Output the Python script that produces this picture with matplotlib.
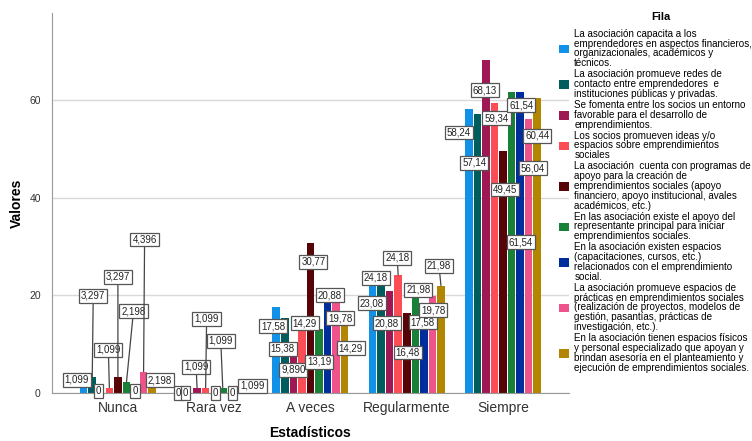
import numpy as np
import matplotlib.pyplot as plt

plt.rcParams['font.family'] = ['Liberation Sans', 'DejaVu Sans']

# datos (porcentajes por fila)
categorias = ['Nunca', 'Rara vez', 'A veces', 'Regularmente', 'Siempre']
capacita  = [1.099, 0, 17.58, 23.08, 58.24]
redes     = [3.297, 0, 15.38, 24.18, 57.14]
entorno   = [0, 1.099, 9.890, 20.88, 68.13]
ideas     = [1.099, 1.099, 14.29, 24.18, 59.34]
programas = [3.297, 0, 30.77, 16.48, 49.45]
apoyo     = [2.198, 1.099, 13.19, 21.98, 61.54]
espacios  = [0, 0, 20.88, 17.58, 61.54]
practicas = [4.396, 0, 19.78, 19.78, 56.04]
fisicos   = [2.198, 1.099, 14.29, 21.98, 60.44]

series = [capacita, redes, entorno, ideas, programas, apoyo, espacios, practicas, fisicos]

nombres = [
    'La asociación capacita a los\nemprendedores en aspectos financieros,\norganizacionales, académicos y\ntécnicos.',
    'La asociación promueve redes de\ncontacto entre emprendedores  e\ninstituciones públicas y privadas.',
    'Se fomenta entre los socios un entorno\nfavorable para el desarrollo de\nemprendimientos.',
    'Los socios promueven ideas y/o\nespacios sobre emprendimientos\nsociales',
    'La asociación  cuenta con programas de\napoyo para la creación de\nemprendimientos sociales (apoyo\nfinanciero, apoyo institucional, avales\nacadémicos, etc.)',
    'En las asociación existe el apoyo del\nrepresentante principal para iniciar\nemprendimientos sociales.',
    'En la asociación existen espacios\n(capacitaciones, cursos, etc.)\nrelacionados con el emprendimiento\nsocial.',
    'La asociación promueve espacios de\nprácticas en emprendimientos sociales\n(realización de proyectos, modelos de\ngestión, pasantías, prácticas de\ninvestigación, etc.).',
    'En la asociación tienen espacios físicos\ny personal especializado que apoyan y\nbrindan asesoría en el planteamiento y\nejecución de emprendimientos sociales.',
]

colores = ['#1192e8', '#005d5d', '#9f1853', '#fa4d56', '#570408',
           '#198038', '#002d9c', '#ee538b', '#b28600']

# desplazamiento de cada etiqueta respecto a la cima de su barra (pixeles)
etiq_pos = [
    [(-7, 8), (-1.5, 0), (-3, -19), (-1, -23), (-10, -24)],
    [(1, 81), (-3, 0), (-2, -31), (-5, -3), (-3, -49)],
    [(-2, 2), (-1, 21), (0, -25), (-3, -32), (-1, -30)],
    [(-1, 38), (1, 69), (3, 0), (-1, 17), (2, -15)],
    [(0, 100), (1, 0), (3, -19), (1, -40), (2, -38)],
    [(7, 71), (-2, 47), (0, -33), (3, -4), (9, -150)],
    [(0, 2), (1, 0), (2, -4), (-1, -15), (1, -13)],
    [(1, 132), None, (4, -22), (1, -14), (4, -49)],
    [(8, 2), (4, 2), (6, -25), (-2, 20), (0, -38)],
]


def fmt(v):
    if v == 0:
        return '0'
    dec = 3 - int(np.floor(np.log10(v)))
    return '{:.{}f}'.format(v, dec).replace('.', ',')


fig = plt.figure(figsize=(7.52, 4.41), dpi=100)
ax = fig.add_axes([0.0691, 0.1088, 0.6875, 0.8617])

x = np.arange(len(categorias))
n = len(series)
slot = 0.8 / n
for i, (vals, col) in enumerate(zip(series, colores)):
    xs = x + (i - (n - 1) / 2) * slot
    ax.bar(xs, vals, width=slot * 0.88, color=col, label=nombres[i], zorder=2)

for i, vals in enumerate(series):
    xs = x + (i - (n - 1) / 2) * slot
    for j, v in enumerate(vals):
        pos = etiq_pos[i][j]
        if pos is None:
            continue
        dx, dy = pos
        kw = {}
        if dy > 10:
            kw['arrowprops'] = dict(arrowstyle='-', color='#444444', lw=0.9,
                                    shrinkA=0, shrinkB=0)
        ax.annotate(fmt(v), xy=(xs[j], v), xytext=(dx, dy),
                    textcoords='offset pixels', ha='center', va='center',
                    fontsize=7, color='#222222', zorder=5,
                    annotation_clip=False,
                    bbox=dict(boxstyle='square,pad=0.2', fc='white',
                              ec='#555555', lw=0.9), **kw)

ax.set_xlim(-0.685, 4.685)
ax.set_ylim(0, 77.8)
ax.set_yticks([0, 20, 40, 60])
ax.set_xticks(x)
ax.set_xticklabels(categorias, fontsize=10, color='#333333')
ax.tick_params(axis='y', labelsize=7.5, colors='#333333', length=0, pad=8)
ax.tick_params(axis='x', length=0, pad=6)
ax.yaxis.grid(True, color='#d9d9d9', lw=1, zorder=0)
ax.set_axisbelow(True)
for s in ['top', 'right']:
    ax.spines[s].set_visible(False)
ax.spines['left'].set_color('#999999')
ax.spines['bottom'].set_color('#999999')

ax.set_ylabel('Valores', fontsize=10, fontweight='bold', labelpad=4)
ax.set_xlabel('Estadísticos', fontsize=10, fontweight='bold', labelpad=8)

fig.text(661 / 752, 1 - 17 / 441, 'Fila', fontsize=8, fontweight='bold',
         ha='center', va='center')
leg = fig.legend(loc='upper left', bbox_to_anchor=(0.744, 0.935),
                 frameon=False, fontsize=7.1,
                 handlelength=0.95, handleheight=0.95, handletextpad=0.55,
                 labelspacing=0.1, borderpad=0, borderaxespad=0)
for t in leg.get_texts():
    t.set_linespacing(0.98)

fig.savefig('out.png', dpi=100)
